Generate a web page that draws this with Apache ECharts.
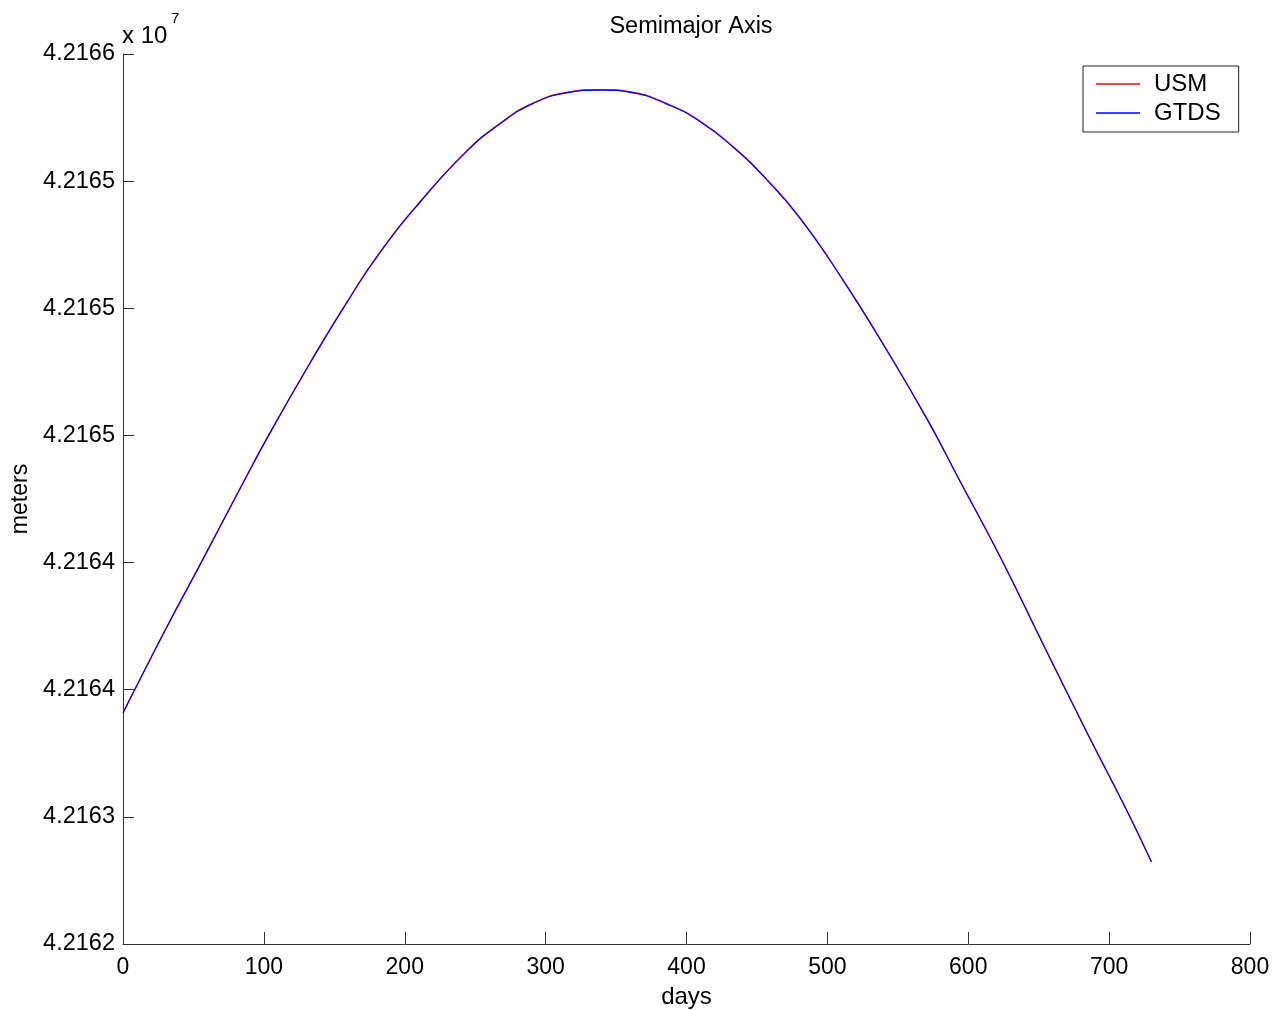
<!DOCTYPE html>
<html>
<head>
<meta charset="utf-8">
<script src="https://cdn.jsdelivr.net/npm/echarts@6/dist/echarts.min.js"></script>
<style>
html,body{margin:0;padding:0;background:#fff;}
#chart{width:1272px;height:1010px;}
</style>
</head>
<body>
<div id="chart"></div>
<script>
// Days (x)
var days = [0, 7, 31, 55, 83, 104, 135, 159, 182, 211, 244, 268, 291, 315, 339, 362, 386, 410, 433, 457, 481, 511, 542, 571, 594, 623, 653, 684, 713, 730];
// Semimajor axis, meters
var usmValues = [42162910, 42162987, 42163247, 42163496, 42163791, 42164008, 42164307, 42164525, 42164718, 42164920, 42165119, 42165229, 42165307, 42165349, 42165360, 42165349, 42165305, 42165235, 42165136, 42165007, 42164853, 42164613, 42164338, 42164063, 42163823, 42163520, 42163182, 42162836, 42162521, 42162324];
var gtdsValues = [42162908, 42162985, 42163245, 42163494, 42163789, 42164006, 42164305, 42164523, 42164716, 42164918, 42165117, 42165227, 42165305, 42165347, 42165358, 42165347, 42165303, 42165233, 42165134, 42165005, 42164851, 42164611, 42164336, 42164061, 42163821, 42163518, 42163180, 42162834, 42162519, 42162322];
// Tick labels as printed on the y axis (x 10^7)
var yTickLabels = ['4.2162', '4.2163', '4.2164', '4.2164', '4.2165', '4.2165', '4.2165', '4.2166'];
var seriesNames = ['USM', 'GTDS'];

function pairs(xs, ys) { return xs.map(function (x, i) { return [x, ys[i]]; }); }

var FONT = '"Liberation Sans", Arial, Helvetica, sans-serif';
var chart = echarts.init(document.getElementById('chart'), null, {renderer: 'canvas'});
chart.setOption({
  animation: false,
  backgroundColor: '#ffffff',
  title: {
    text: 'Semimajor Axis',
    left: 686, top: 10, textAlign: 'center',
    textStyle: {fontFamily: FONT, fontSize: 23.5, fontWeight: 'normal', color: '#000'}
  },
  legend: {
    orient: 'vertical',
    left: 1083, top: 66,
    icon: 'rect',
    itemWidth: 44, itemHeight: 1.5,
    itemGap: 5,
    padding: [6, 18, 7, 13],
    borderColor: '#222', borderWidth: 1,
    backgroundColor: '#fff',
    data: seriesNames,
    textStyle: {fontFamily: FONT, fontSize: 24, color: '#000', lineHeight: 24, padding: [0, 0, 0, 9]}
  },
  grid: {left: 123, top: 54, right: 22, bottom: 66, containLabel: false, outerBoundsMode: 'none'},
  xAxis: {
    type: 'value', min: 0, max: 800, interval: 100,
    name: 'days', nameLocation: 'middle', nameGap: 41,
    nameTextStyle: {fontFamily: FONT, fontSize: 24, color: '#000'},
    axisLine: {show: true, lineStyle: {color: '#333', width: 1}},
    axisTick: {show: true, inside: true, length: 12, lineStyle: {color: '#333'}},
    axisLabel: {fontFamily: FONT, fontSize: 23, color: '#000', margin: 12},
    splitLine: {show: false}
  },
  yAxis: {
    type: 'value', min: 42162000, max: 42165500, interval: 500,
    name: 'meters', nameLocation: 'middle', nameGap: 86, nameRotate: 90,
    nameTextStyle: {fontFamily: FONT, fontSize: 23, color: '#000'},
    axisLine: {show: true, lineStyle: {color: '#333', width: 1}},
    axisTick: {show: true, inside: true, length: 11, lineStyle: {color: '#333'}},
    axisLabel: {
      fontFamily: FONT, fontSize: 23.5, color: '#000', margin: 8, padding: [4, 0, 0, 0],
      formatter: function (v) { var i = Math.round((v - 42162000) / 500); return yTickLabels[i] || ''; }
    },
    splitLine: {show: false}
  },
  graphic: [
    {type: 'text', left: 122, top: 24, style: {text: 'x 10', font: '24px ' + FONT, fill: '#000'}},
    {type: 'text', left: 171, top: 11, style: {text: '7', font: '15px ' + FONT, fill: '#000'}}
  ],
  series: [
    {name: seriesNames[0], type: 'line', data: pairs(days, usmValues), showSymbol: false, smooth: 0.5,
     color: '#ff0000', lineStyle: {color: '#ff0000', width: 1.2}, z: 2},
    {name: seriesNames[1], type: 'line', data: pairs(days, gtdsValues), showSymbol: false, smooth: 0.5,
     color: '#0000ff', lineStyle: {color: '#0000ff', width: 1.2}, z: 3}
  ]
});
</script>
</body>
</html>
